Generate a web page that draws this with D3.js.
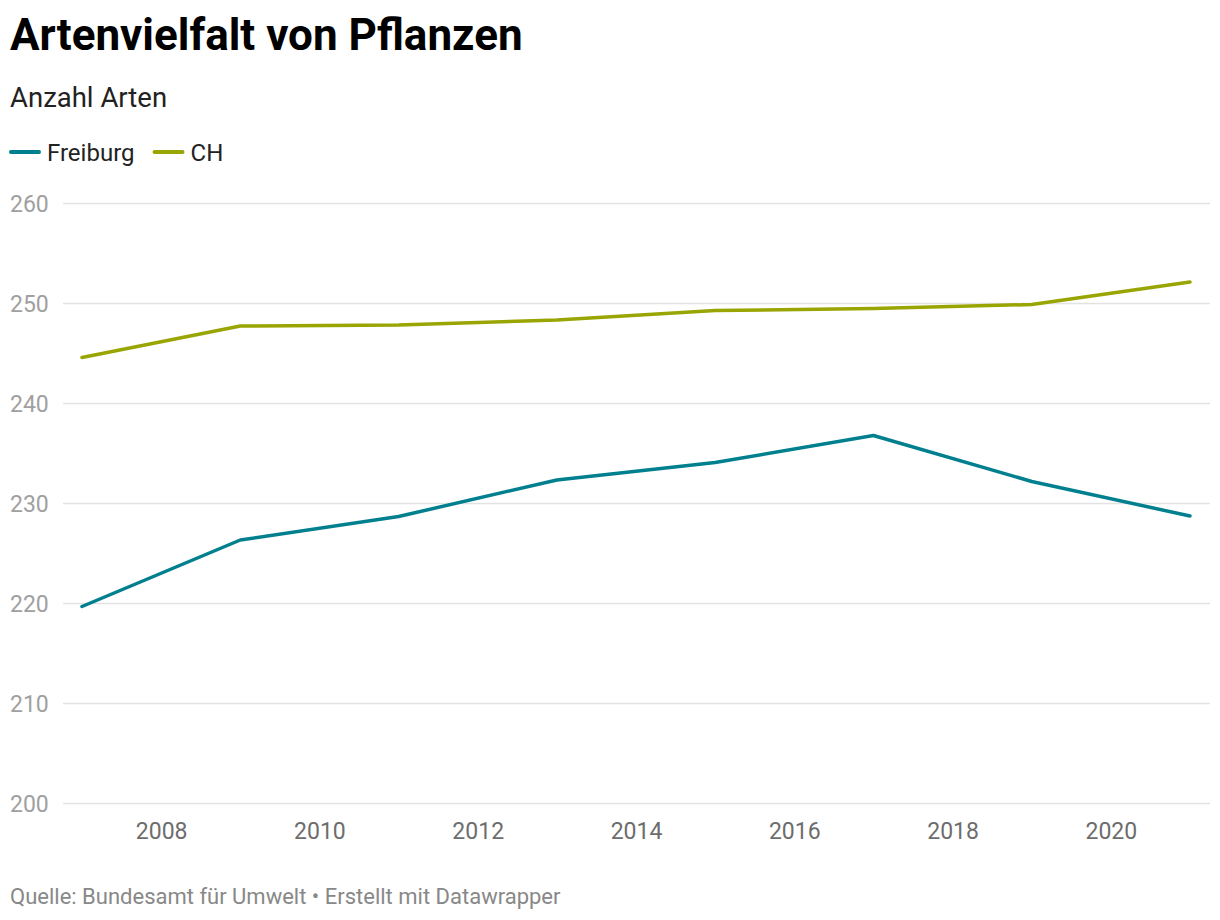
<!DOCTYPE html>
<html>
<head>
<meta charset="utf-8">
<script src="https://cdn.jsdelivr.net/npm/d3@7.9.0/dist/d3.min.js"></script>
<style>
  body { margin: 0; background: #fff; font-family: Roboto, "Noto Sans", sans-serif; }
</style>
</head>
<body>
<div id="chart"></div>
<script>
const years = [2007, 2009, 2011, 2013, 2015, 2017, 2019, 2021];
const freiburg = [219.7, 226.35, 228.7, 232.35, 234.1, 236.8, 232.2, 228.75];
const ch = [244.6, 247.75, 247.85, 248.35, 249.3, 249.5, 249.9, 252.15];
const yTicks = [200, 210, 220, 230, 240, 250, 260];
const xTicks = [2008, 2010, 2012, 2014, 2016, 2018, 2020];

const series = [
  { name: 'Freiburg', color: '#00808e', values: freiburg },
  { name: 'CH', color: '#99a503', values: ch }
];

const width = 1220;
const height = 920;

const svg = d3.select('#chart')
  .append('svg')
  .attr('width', width)
  .attr('height', height);

// title + subtitle
svg.append('text')
  .attr('x', 10).attr('y', 50)
  .style('font-size', '44px').style('font-weight', 700)
  .attr('fill', '#000')
  .text('Artenvielfalt von Pflanzen');

svg.append('text')
  .attr('x', 10).attr('y', 107)
  .style('font-size', '27.5px')
  .attr('fill', '#222')
  .text('Anzahl Arten');

// legend
let lx = 10;
series.forEach((s) => {
  const g = svg.append('g').attr('transform', `translate(${lx}, 152)`);
  g.append('line')
    .attr('x1', 1).attr('x2', 29)
    .attr('stroke', s.color).attr('stroke-width', 4)
    .attr('stroke-linecap', 'round');
  const t = g.append('text')
    .attr('x', 37).attr('y', 8.5)
    .style('font-size', '24px')
    .attr('fill', '#222')
    .text(s.name);
  lx += 37 + t.node().getComputedTextLength() + 19;
});

const xScale = d3.scaleLinear()
  .domain([2007, 2021])
  .range([82, 1190]);

const yScale = d3.scaleLinear()
  .domain([200, 260])
  .range([803.5, 203.5]);

// gridlines
const grid = svg.append('g').attr('class', 'gridlines');
grid.selectAll('line')
  .data(yTicks)
  .join('line')
  .attr('x1', 63).attr('x2', 1210)
  .attr('y1', (d) => yScale(d)).attr('y2', (d) => yScale(d))
  .attr('stroke', '#e3e3e3')
  .attr('stroke-width', 1.5);

// y labels
svg.append('g')
  .selectAll('text')
  .data(yTicks)
  .join('text')
  .attr('x', 10)
  .attr('y', (d) => yScale(d) + 8.3)
  .style('font-size', '23px')
  .attr('fill', '#a0a0a0')
  .text((d) => d);

// x axis
const xAxis = d3.axisBottom(xScale)
  .tickValues(xTicks)
  .tickFormat(d3.format('d'))
  .tickSize(0)
  .tickPadding(0);

const xg = svg.append('g')
  .attr('transform', `translate(0, 822)`)
  .call(xAxis);
xg.select('.domain').remove();
xg.selectAll('text')
  .style('font-size', '23px')
  .style('font-family', 'Roboto, sans-serif')
  .attr('fill', '#6d6d6d')
  .attr('dy', '0.72em');

// lines
const line = d3.line()
  .x((d, i) => xScale(years[i]))
  .y((d) => yScale(d));

svg.append('g')
  .selectAll('path')
  .data(series)
  .join('path')
  .attr('d', (d) => line(d.values))
  .attr('fill', 'none')
  .attr('stroke', (d) => d.color)
  .attr('stroke-width', 3.5)
  .attr('stroke-linejoin', 'round')
  .attr('stroke-linecap', 'round');

// footer
svg.append('text')
  .attr('x', 10).attr('y', 904)
  .style('font-size', '22px')
  .attr('fill', '#888')
  .text('Quelle: Bundesamt für Umwelt • Erstellt mit Datawrapper');
</script>
</body>
</html>
